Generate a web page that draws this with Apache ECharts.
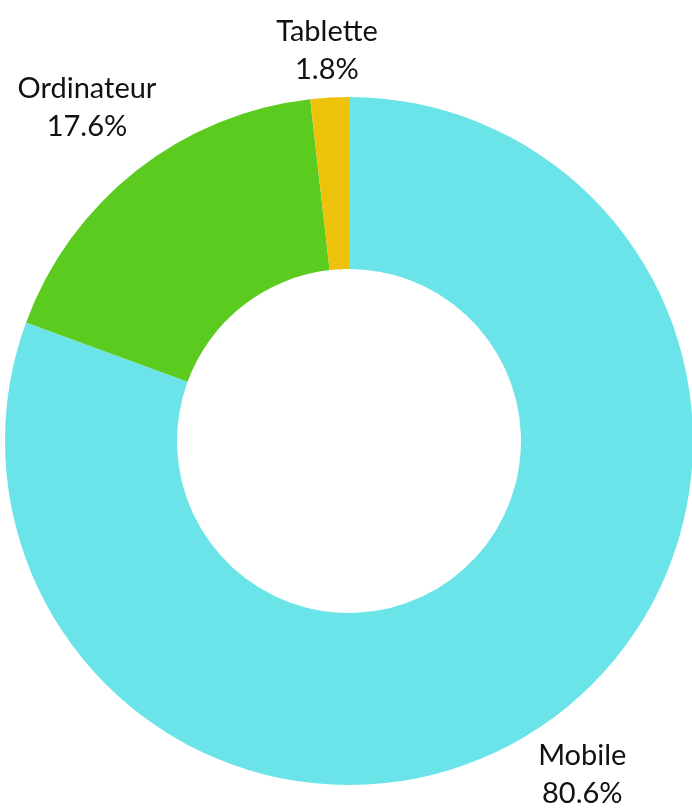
<!DOCTYPE html>
<html>
<head>
<meta charset="utf-8">
<script src="https://cdn.jsdelivr.net/npm/echarts@6/dist/echarts.min.js"></script>
<style>
html,body{margin:0;padding:0;background:#fff;}
#chart{width:692px;height:812px;}
</style>
</head>
<body>
<div id="chart"></div>
<script>
var categories = ['Mobile', 'Ordinateur', 'Tablette'];
var shares = [80.6, 17.6, 1.8];
var colors = ['#6ae4e8', '#5bcb1f', '#edc20a'];

var myChart = echarts.init(document.getElementById('chart'));

var pieData = [];
for (var i = 0; i < categories.length; i++) {
    pieData.push({name: categories[i], value: shares[i], itemStyle: {color: colors[i]}});
}

// labels centred outside the ring, pushed out along the slice direction
function placeLabel(params) {
    var pts = params.labelLinePoints;
    if (!pts) return {};
    var dx = pts[1][0] - pts[0][0];
    var dy = pts[1][1] - pts[0][1];
    var len = Math.sqrt(dx * dx + dy * dy) || 1;
    var ux = dx / len, uy = dy / len;
    var w = params.labelRect.width, h = params.labelRect.height - 12;
    var ext = w / 2 * Math.abs(ux) + h / 2 * Math.abs(uy);
    return {
        x: pts[1][0] + ux * ext,
        y: pts[1][1] + uy * ext,
        align: 'center',
        verticalAlign: 'middle'
    };
}

var option = {
    animation: false,
    series: [{
        type: 'pie',
        center: [349, 441],
        radius: [172, 344],
        startAngle: 90,
        clockwise: true,
        avoidLabelOverlap: false,
        data: pieData,
        label: {
            show: true,
            position: 'outside',
            formatter: '{b}\n{c}%',
            fontFamily: 'Lato',
            fontSize: 29,
            lineHeight: 38,
            color: '#111'
        },
        labelLine: {
            show: true,
            length: 12,
            length2: 0,
            lineStyle: {color: 'rgba(0,0,0,0)', width: 0}
        },
        labelLayout: placeLabel,
        emphasis: {disabled: true}
    }]
};
myChart.setOption(option);
</script>
</body>
</html>
